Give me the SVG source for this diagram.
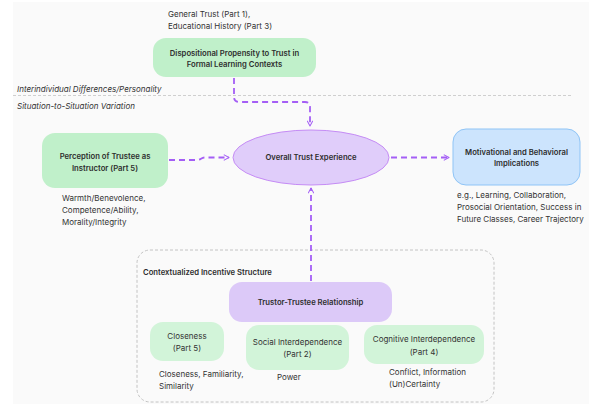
<svg xmlns="http://www.w3.org/2000/svg" width="589" height="406" viewBox="0 0 589 406">
<defs>
<style>
.t{font-family:Inter,"Liberation Sans",sans-serif;fill:#333;font-size:8px}
.b{font-weight:600;font-size:7.7px;fill:#2e2e2e}
.c{text-anchor:middle}
.i{font-style:italic}
.conn{fill:none;stroke:#a45ef5;stroke-width:1.8;stroke-dasharray:6 4}
.green{fill:#c0f0ca}
.lg{fill:#d2f4d9}
</style>
<marker id="ah" viewBox="0 0 10 10" refX="9" refY="5" markerWidth="6.5" markerHeight="6.5" orient="auto" markerUnits="userSpaceOnUse">
<path d="M1.5,1 L9,5 L1.5,9" fill="none" stroke="#a45ef5" stroke-width="1.6" stroke-linecap="round" stroke-linejoin="round"/>
</marker>
</defs>
<rect x="13" y="2" width="576" height="402" fill="#fafafa"/>
<line x1="13" y1="95.5" x2="572" y2="95.5" stroke="#cfcfcf" stroke-width="1" stroke-dasharray="3 2"/>
<text class="t i" x="17" y="92">Interindividual Differences/Personality</text>
<text class="t i" x="17" y="109">Situation-to-Situation Variation</text>

<g id="container">
<rect x="137" y="250" width="357" height="152" rx="13" fill="none" stroke="#bdbdbd" stroke-width="0.9" stroke-dasharray="3 2"/>
<text class="t b" x="143" y="274.5">Contextualized Incentive Structure</text>
</g>

<g id="connectors">
<path class="conn" d="M234,78 V97 Q234,102 239,102 H305 Q310,102 310,107 V126" marker-end="url(#ah)"/>
<path class="conn" d="M169,160 H197 C201,160 201,157.5 205,157.5 H229" marker-end="url(#ah)"/>
<path class="conn" d="M391,157.5 H449" marker-end="url(#ah)"/>
<path class="conn" d="M311,281 V188" marker-end="url(#ah)"/>
</g>

<g id="dispositional">
<text class="t" x="168" y="16.5">General Trust (Part 1),</text>
<text class="t" x="168" y="28.5">Educational History (Part 3)</text>
<rect class="green" x="153" y="38" width="163" height="39" rx="13"/>
<text class="t b c" x="234.5" y="55.5">Dispositional Propensity to Trust in</text>
<text class="t b c" x="234.5" y="67">Formal Learning Contexts</text>
</g>

<g id="perception">
<rect class="green" x="42" y="133" width="126" height="55" rx="13"/>
<text class="t b c" x="105" y="158.5">Perception of Trustee as</text>
<text class="t b c" x="105" y="170.5">Instructor (Part 5)</text>
<text class="t" x="62" y="200.5">Warmth/Benevolence,</text>
<text class="t" x="62" y="212.5">Competence/Ability,</text>
<text class="t" x="62" y="224.5">Morality/Integrity</text>
</g>

<g id="overall">
<ellipse cx="311" cy="157.5" rx="78" ry="27.5" fill="#e0cdfa" stroke="#c58cf5" stroke-width="1"/>
<text class="t b c" x="311" y="160">Overall Trust Experience</text>
</g>

<g id="motivational">
<rect x="453" y="129" width="127" height="56" rx="13" fill="#cce4fd" stroke="#8fc4f6" stroke-width="1"/>
<text class="t b c" x="516.5" y="154.5">Motivational and Behavioral</text>
<text class="t b c" x="516.5" y="166">Implications</text>
<text class="t" x="457" y="197.5">e.g., Learning, Collaboration,</text>
<text class="t" x="457" y="209.5">Prosocial Orientation, Success in</text>
<text class="t" x="457" y="221.5">Future Classes, Career Trajectory</text>
</g>

<g id="trustor">
<rect x="229" y="282" width="163" height="40" rx="13" fill="#dcc9f8"/>
<text class="t b c" x="310.5" y="304.5">Trustor-Trustee Relationship</text>
</g>

<g id="closeness">
<rect class="lg" x="150" y="322" width="74" height="39" rx="13"/>
<text class="t c" x="187" y="338.5">Closeness</text>
<text class="t c" x="187" y="350.5">(Part 5)</text>
<text class="t" x="159" y="376.5">Closeness, Familiarity,</text>
<text class="t" x="159" y="388.5">Similarity</text>
</g>

<g id="social">
<rect class="lg" x="246" y="325" width="103" height="45" rx="13"/>
<text class="t c" x="297.5" y="344.5">Social Interdependence</text>
<text class="t c" x="297.5" y="356.5">(Part 2)</text>
<text class="t" x="277" y="379.5">Power</text>
</g>

<g id="cognitive">
<rect class="lg" x="364" y="325" width="120" height="39" rx="13"/>
<text class="t c" x="424" y="341.5">Cognitive Interdependence</text>
<text class="t c" x="424" y="354.5">(Part 4)</text>
<text class="t" x="389" y="374.5">Conflict, Information</text>
<text class="t" x="389" y="386.5">(Un)Certainty</text>
</g>
</svg>
